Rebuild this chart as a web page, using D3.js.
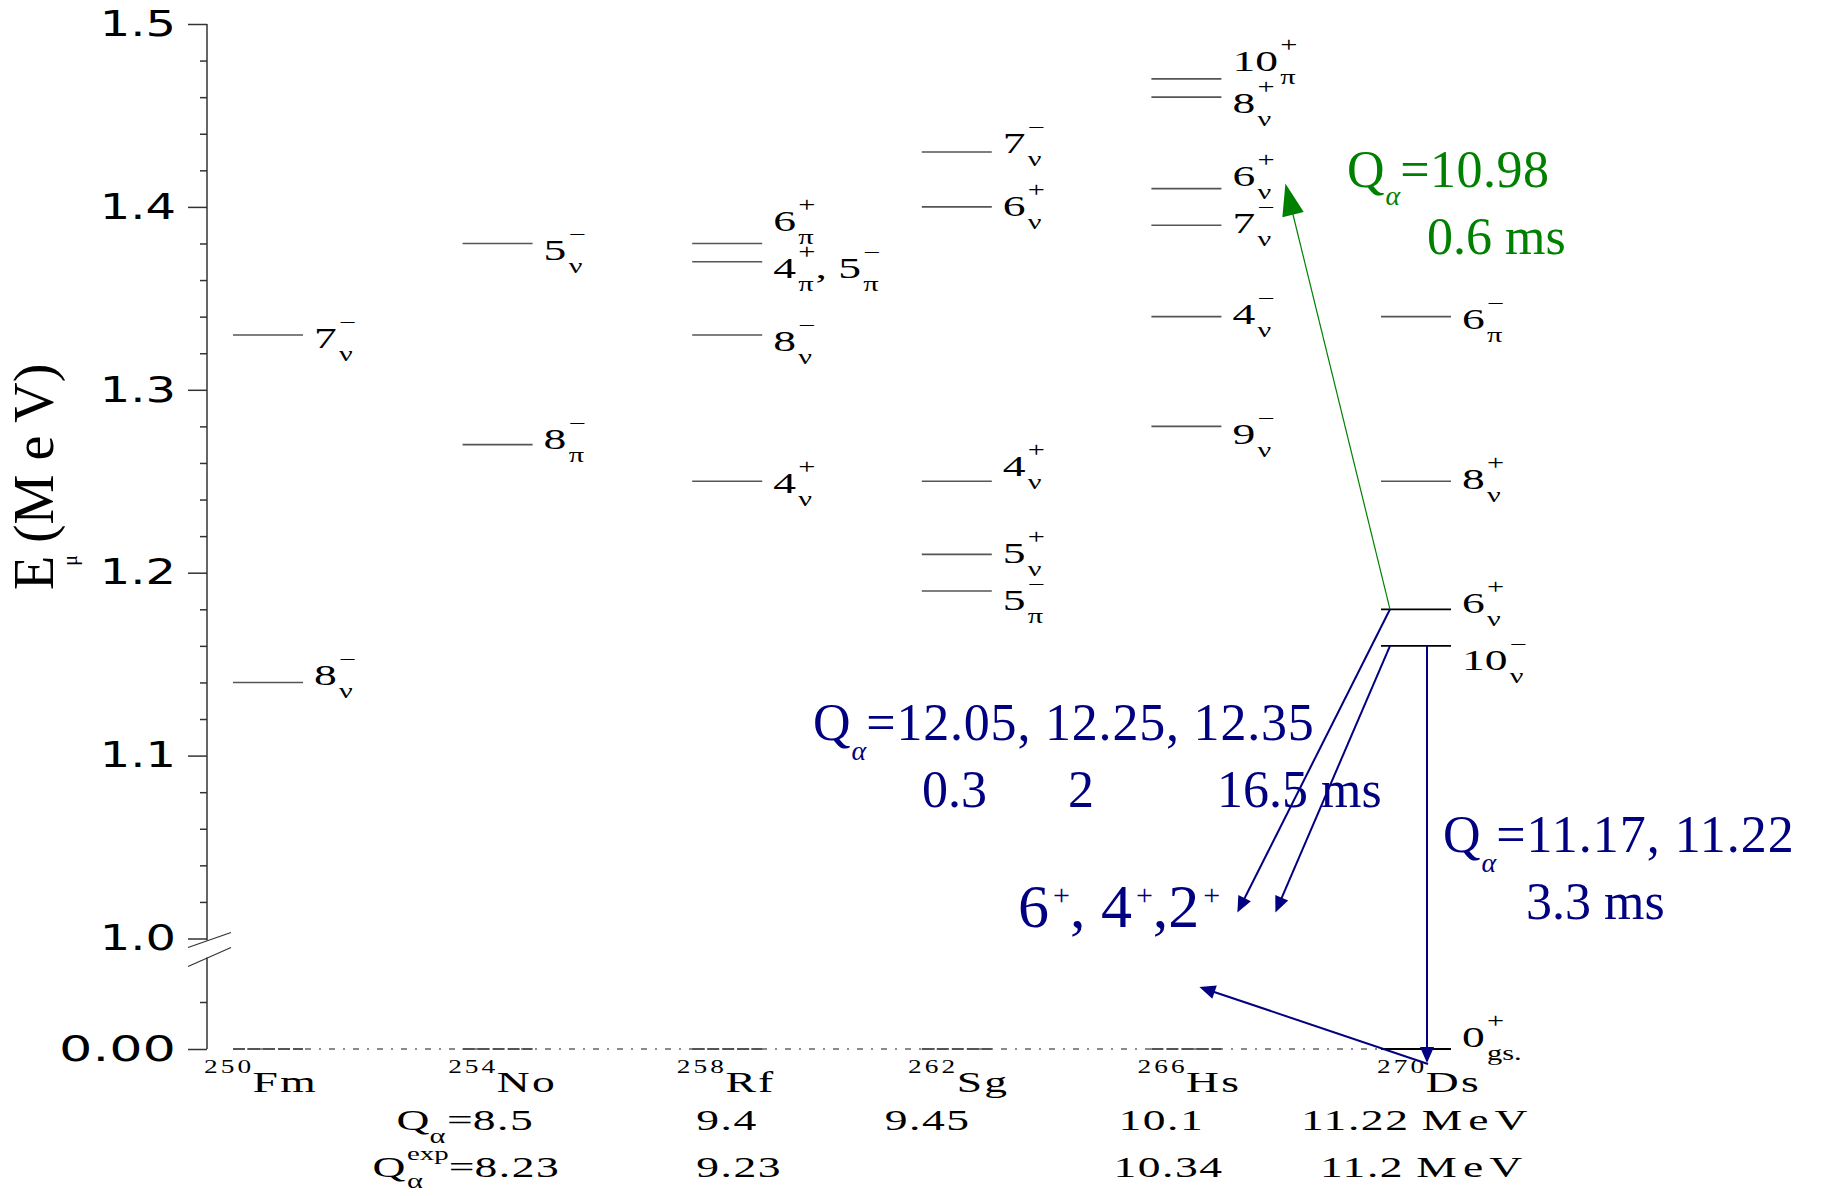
<!DOCTYPE html>
<html>
<head>
<meta charset="utf-8">
<script src="https://cdn.jsdelivr.net/npm/d3@7"></script>
<style>
  body { margin: 0; background: #fff; }
  svg { display: block; }
</style>
</head>
<body>
<svg id="chart" width="1825" height="1196"></svg>
<script>
// ---- data ---------------------------------------------------------------
// alpha-decay chain of 270Ds, one column per nucleus
const nuclei = ["Fm", "No", "Rf", "Sg", "Hs", "Ds"];
const massNumbers = ["250", "254", "258", "262", "266", "270"];

// quasiparticle states: nucleus, excitation energy (MeV), spin, parity, orbital
// (comma separated entries share one level line)
const levelNucleus = ["Fm", "Fm",
                      "No", "No",
                      "Rf", "Rf", "Rf", "Rf",
                      "Sg", "Sg", "Sg", "Sg", "Sg",
                      "Hs", "Hs", "Hs", "Hs", "Hs", "Hs",
                      "Ds", "Ds", "Ds", "Ds", "Ds"];
const levelEnergy  = [1.33, 1.14,
                      1.38, 1.27,
                      1.38, 1.37, 1.33, 1.25,
                      1.43, 1.40, 1.25, 1.21, 1.19,
                      1.47, 1.46, 1.41, 1.39, 1.34, 1.28,
                      1.34, 1.25, 1.18, 1.16, 0.00];
const levelSpin    = ["7", "8",
                      "5", "8",
                      "6", "4,5", "8", "4",
                      "7", "6", "4", "5", "5",
                      "10", "8", "6", "7", "4", "9",
                      "6", "8", "6", "10", "0"];
const levelParity  = ["−", "−",
                      "−", "−",
                      "+", "+,−", "−", "+",
                      "−", "+", "+", "+", "−",
                      "+", "+", "+", "−", "−", "−",
                      "−", "+", "+", "−", "+"];
const levelOrbit   = ["ν", "ν",
                      "ν", "π",
                      "π", "π,π", "ν", "ν",
                      "ν", "ν", "ν", "ν", "π",
                      "π", "ν", "ν", "ν", "ν", "ν",
                      "π", "ν", "ν", "ν", "gs."];

// Q-alpha values (MeV) of each alpha emitter No ... Ds
const qEmitters = ["No", "Rf", "Sg", "Hs", "Ds"];
const qCalc = ["8.5", "9.4", "9.45", "10.1", "11.22"];
const qExp  = ["8.23", "9.23", "", "10.34", "11.2"];

// y-axis ticks
const majorUpper = [1.0, 1.1, 1.2, 1.3, 1.4, 1.5];
const majorLower = [0];
const minorLower = [0.5];

// ---- layout -------------------------------------------------------------
const SERIF = "'Liberation Serif','Times New Roman',serif";
const SANS = "'DejaVu Sans',Verdana,sans-serif";
const NAVY = "#000080";
const GREEN = "#008000";
const STRETCH = 1.52;          // horizontal stretch of the level-scheme lettering
const halfW = 35;              // half length of a level line
const axisX = 207;

// vertical nudges (px) of each level label relative to its line
const labelNudge = [3, -7,
                    7, -6,
                    -22, 6, 6, 2,
                    -9, -1, -15, -1, 9,
                    -18, 6, -13, -2, -3, 8,
                    2, -2, -6, 14, -12];
// horizontal nudges of the nucleus names
const nameDx = [-7, 5, -1, 2, 3, 13];
// left offsets of the Q rows from each emitter column
const qCalcDx = [-101, -31, -72, -68, -115];
const qExpDx  = [-125, -31, 0, -73, -96];

const svg = d3.select("#chart");

const x = d3.scalePoint().domain(nuclei).range([268, 1416]);
const yUp = d3.scaleLinear().domain([1.0, 1.5]).range([938.5, 24]);
const yLow = d3.scaleLinear().domain([0, 0.5]).range([1049, 1002]);
const yE = e => (e >= 1 ? yUp(e) : yLow(e));

// draws a run of text pieces (super/subscripts) one after another
function richText(parent, px, py, parts, o = {}) {
  const sx = o.sx || 1;
  const g = parent.append("g")
    .attr("fill", o.fill || "#000")
    .style("font-family", o.family || SERIF);
  let cursor = 0, lastStart = 0;
  parts.forEach(p => {
    const start = p.stack ? lastStart : cursor + (p.dx || 0);
    const t = g.append("text")
      .attr("x", start)
      .attr("y", p.dy || 0)
      .attr("font-size", p.size)
      .text(p.t);
    if (p.italic) t.attr("font-style", "italic");
    if (p.ls) t.attr("letter-spacing", p.ls);
    const w = t.node().getComputedTextLength();
    cursor = p.stack ? Math.max(cursor, start + w) : start + w;
    if (!p.stack) lastStart = start;
  });
  const shift = o.anchor === "end" ? -cursor * sx
              : o.anchor === "middle" ? -cursor * sx / 2 : 0;
  g.attr("transform", `translate(${px + shift},${py}) scale(${sx},1)`);
  return g;
}

function arrow(parent, x1, y1, x2, y2, color, width, headLen, headW) {
  const dx = x2 - x1, dy = y2 - y1, L = Math.hypot(dx, dy);
  const ux = dx / L, uy = dy / L, nx = -uy, ny = ux;
  const bx = x2 - ux * headLen, by = y2 - uy * headLen;
  parent.append("line")
    .attr("x1", x1).attr("y1", y1).attr("x2", bx + ux * 2).attr("y2", by + uy * 2)
    .attr("stroke", color).attr("stroke-width", width);
  parent.append("path")
    .attr("d", `M${x2},${y2}L${bx + nx * headW / 2},${by + ny * headW / 2}L${bx - nx * headW / 2},${by - ny * headW / 2}Z`)
    .attr("fill", color);
}

// ---- y axis -------------------------------------------------------------
function styleAxis(g) {
  g.select(".domain").remove();
  g.attr("color", "#333").attr("font-size", 35).attr("font-family", SANS);
  g.selectAll(".tick line").attr("stroke-width", 1.5);
  g.selectAll(".tick text")
    .attr("x", null).attr("fill", "#000")
    .attr("transform", d => `translate(-31,0) scale(${d === 0 ? 1.5 : 1.37},1)`);
}

const minorUpper = d3.range(1.02, 1.5, 0.02).filter(v => Math.abs(v * 10 - Math.round(v * 10)) > 1e-6);

svg.append("g").attr("transform", `translate(${axisX},0)`)
  .call(d3.axisLeft(yUp).tickValues(minorUpper).tickSize(7).tickFormat(""))
  .call(styleAxis);
svg.append("g").attr("transform", `translate(${axisX},0)`)
  .call(d3.axisLeft(yUp).tickValues(majorUpper).tickSize(19).tickPadding(12).tickFormat(d3.format(".1f")))
  .call(styleAxis);
svg.append("g").attr("transform", `translate(${axisX},0)`)
  .call(d3.axisLeft(yLow).tickValues(minorLower).tickSize(7).tickFormat(""))
  .call(styleAxis);
svg.append("g").attr("transform", `translate(${axisX},0)`)
  .call(d3.axisLeft(yLow).tickValues(majorLower).tickSize(19).tickPadding(12).tickFormat(d3.format(".2f")))
  .call(styleAxis);

// axis line with a scale break just below 1.0 MeV
const brk = yUp(1.0);
const axisG = svg.append("g").attr("stroke", "#333").attr("stroke-width", 1.5);
axisG.append("line").attr("x1", axisX).attr("x2", axisX).attr("y1", yUp(1.5)).attr("y2", brk + 2);
axisG.append("line").attr("x1", axisX).attr("x2", axisX).attr("y1", brk + 19).attr("y2", yLow(0));
axisG.append("line").attr("x1", axisX - 19).attr("y1", brk + 9).attr("x2", axisX + 24).attr("y2", brk - 6).attr("stroke-width", 1.2);
axisG.append("line").attr("x1", axisX - 19).attr("y1", brk + 28).attr("x2", axisX + 24).attr("y2", brk + 9).attr("stroke-width", 1.2);

// y axis title
const yTitle = svg.append("text")
  .attr("transform", "translate(53,590) rotate(-90)")
  .style("font-family", SERIF).attr("font-size", 56).attr("fill", "#000");
yTitle.append("tspan").text("E");
yTitle.append("tspan").attr("font-size", 20).attr("dx", -10).attr("dy", 24).text("μ");
yTitle.append("tspan").attr("dy", -24).attr("dx", -2).text("\u00a0(M e V)");

// ---- ground states -------------------------------------------------------
const g0 = yE(0);
svg.append("line")
  .attr("x1", x("Fm") - halfW).attr("x2", x("Ds") - halfW)
  .attr("y1", g0).attr("y2", g0)
  .attr("stroke", "#666").attr("stroke-width", 1.5)
  .attr("stroke-dasharray", "6,8,2,8");
svg.append("g").selectAll("line")
  .data(nuclei.filter(n => n !== "Ds"))
  .join("line")
  .attr("x1", d => x(d) - halfW).attr("x2", d => x(d) + halfW)
  .attr("y1", g0).attr("y2", g0)
  .attr("stroke", "#555").attr("stroke-width", 2)
  .attr("stroke-dasharray", "12,3");

// ---- excited levels -------------------------------------------------------
const levels = levelEnergy.map((e, i) => ({
  nuc: levelNucleus[i], e, spin: levelSpin[i], parity: levelParity[i],
  orbit: levelOrbit[i], nudge: labelNudge[i]
}));

// alpha branches: start state, end point (column + energy)
const branchFromNuc = ["Ds", "Ds", "Ds", "Ds", "Ds"];
const branchFromE   = [1.18, 1.18, 1.16, 1.16, 0.00];
const branchToNuc   = ["Hs", "Hs", "Hs", "Ds", "Hs"];
const branchToE     = [1.41, 1.014, 1.014, -0.15, 0.66];
const branchColor   = [GREEN, NAVY, NAVY, NAVY, NAVY];
const branchFromDx  = [-26, -26, -26, 11, 12];
const branchToDx    = [99, 51, 89, 11, 13];
const branchToDy    = [-5, 0, 0, 0, 0];

const emitting = new Set(branchFromE.map((e, i) => branchFromNuc[i] + e));

svg.append("g").selectAll("line")
  .data(levels)
  .join("line")
  .attr("x1", d => x(d.nuc) - halfW).attr("x2", d => x(d.nuc) + halfW)
  .attr("y1", d => yE(d.e)).attr("y2", d => yE(d.e))
  .attr("stroke", d => emitting.has(d.nuc + d.e) ? "#000" : "#555")
  .attr("stroke-width", d => emitting.has(d.nuc + d.e) ? 1.8 : 1.6);

const labelG = svg.append("g");
levels.forEach(d => {
  const spins = d.spin.split(","), pars = d.parity.split(","), orbs = d.orbit.split(",");
  const parts = [];
  spins.forEach((s, k) => {
    parts.push({ t: (k ? ",\u00a0" : "") + s, size: 30 });
    parts.push({ t: pars[k], size: 20, dy: -19, dx: 1.5 });
    parts.push({ t: orbs[k], size: 20, dy: 13, stack: true });
  });
  richText(labelG, x(d.nuc) + halfW + 11, yE(d.e) + d.nudge + 10, parts, { sx: STRETCH });
});

// ---- nucleus names ----------------------------------------------------------
nuclei.forEach((n, i) => {
  richText(svg, x(n) + nameDx[i], 1092, [
    { t: massNumbers[i], size: 18, dy: -19, ls: 2 },
    { t: n, size: 30, ls: 1.5, dx: -1 }
  ], { sx: STRETCH, anchor: "middle" });
});

// ---- Q-alpha rows ------------------------------------------------------------
qEmitters.forEach((n, i) => {
  const parts = [];
  if (i === 0) {
    parts.push({ t: "Q", size: 30 });
    parts.push({ t: "α", size: 20, dy: 13 });
    parts.push({ t: "=", size: 30, dx: 1 });
  }
  parts.push({ t: qCalc[i], size: 30, ls: 1 });
  if (i === qEmitters.length - 1) parts.push({ t: "MeV", size: 30, ls: 4, dx: 8 });
  richText(svg, x(n) + qCalcDx[i], 1130, parts, { sx: STRETCH });
});
qEmitters.forEach((n, i) => {
  if (!qExp[i]) return;
  const parts = [];
  if (i === 0) {
    parts.push({ t: "Q", size: 30 });
    parts.push({ t: "α", size: 20, dy: 11, dx: 1 });
    parts.push({ t: "exp", size: 19, dy: -17, stack: true });
    parts.push({ t: "=", size: 30 });
  }
  parts.push({ t: qExp[i], size: 30, ls: 1 });
  if (i === qEmitters.length - 1) parts.push({ t: "MeV", size: 30, ls: 4, dx: 8 });
  richText(svg, x(n) + qExpDx[i], 1177, parts, { sx: STRETCH });
});

// ---- alpha-decay arrows ----------------------------------------------------------
const arrowG = svg.append("g");
branchFromE.forEach((e, i) => {
  const x1 = x(branchFromNuc[i]) + branchFromDx[i];
  const y1 = yE(e) + (e === 0 ? 15 : 0);
  const x2 = x(branchToNuc[i]) + branchToDx[i];
  const y2 = branchToE[i] === 1.014 ? yUp(1.0) - 26 : yE(branchToE[i]) + branchToDy[i];
  if (branchColor[i] === GREEN) arrow(arrowG, x1, y1, x2, y2, GREEN, 1.2, 32, 22);
  else arrow(arrowG, x1, y1, x2, y2, NAVY, 2, 16, 14);
});

// ---- decay annotations ---------------------------------------------------------------
richText(svg, 1347, 187, [
  { t: "Q", size: 52 }, { t: "α", size: 28, dy: 18, italic: true, dx: 1 }, { t: "=10.98", size: 52, ls: 0.5 }
], { fill: GREEN });
richText(svg, 1427, 254, [{ t: "0.6 ms", size: 52 }], { fill: GREEN });

richText(svg, 813, 740, [
  { t: "Q", size: 52 }, { t: "α", size: 28, dy: 20, italic: true, dx: 1 },
  { t: "=12.05, 12.25, 12.35", size: 52, ls: 0.8 }
], { fill: NAVY });
richText(svg, 922, 807, [{ t: "0.3", size: 52 }], { fill: NAVY });
richText(svg, 1068, 807, [{ t: "2", size: 52 }], { fill: NAVY });
richText(svg, 1217, 807, [{ t: "16.5 ms", size: 52 }], { fill: NAVY });

richText(svg, 1018, 927, [
  { t: "6", size: 62 }, { t: "+", size: 30, dy: -22, dx: 4 },
  { t: ",\u00a04", size: 62 }, { t: "+", size: 30, dy: -22, dx: 4 },
  { t: ",2", size: 62 }, { t: "+", size: 30, dy: -22, dx: 4 }
], { fill: NAVY });

richText(svg, 1443, 852, [
  { t: "Q", size: 52 }, { t: "α", size: 28, dy: 20, italic: true, dx: 1 },
  { t: "=11.17, 11.22", size: 52, ls: 1 }
], { fill: NAVY });
richText(svg, 1526, 919, [{ t: "3.3 ms", size: 52 }], { fill: NAVY });
</script>
</body>
</html>
